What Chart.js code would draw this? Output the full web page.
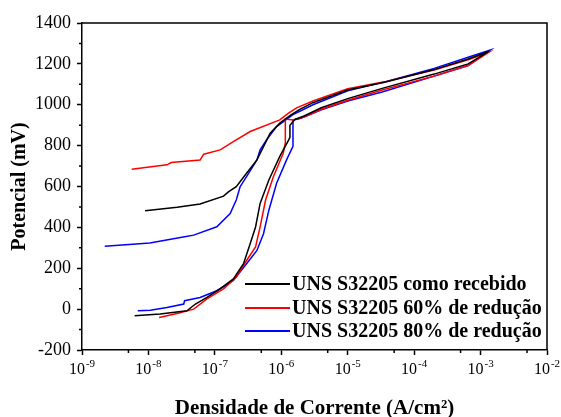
<!DOCTYPE html>
<html>
<head>
<meta charset="utf-8">
<script src="https://cdn.jsdelivr.net/npm/chart.js@4.4.0/dist/chart.umd.min.js"></script>
<style>
  html, body { margin: 0; padding: 0; background: #fff; }
</style>
</head>
<body>
<canvas id="polCanv" width="561" height="417"></canvas>
<script>
// series labels
const labels = [
  "UNS S32205 como recebido",
  "UNS S32205 60% de redução",
  "UNS S32205 80% de redução",
];
const colors = ["#000000", "#ff0000", "#0000ff"];

// current density (A/cm2) and potential (mV): forward scan, then reverse scan
const blackCurrent = [6.2e-9, 1.5e-8, 3.8e-8, 5.1e-8, 7.6e-8, 1.2e-7, 1.9e-7, 2.7e-7, 3.4e-7, 4.1e-7, 4.8e-7, 6.5e-7, 9.5e-7, 1.3e-6, 1.35e-6, 1.35e-6,
  1.6e-6, 2.2e-6, 4e-6, 1e-5, 3.3e-5, 2e-4, 6.5e-4, 1.35e-3,
  6.5e-4, 2e-4, 3.6e-5, 1e-5, 3e-6, 1.9e-6, 1.4e-6, 9.5e-7, 6.8e-7, 5.4e-7, 4.3e-7, 3.0e-7, 2.1e-7, 1.6e-7, 1.35e-7, 6e-8, 2.7e-8, 8.9e-9];
const blackPotential = [-33, -24, -8, 25, 57, 99, 148, 222, 320, 402, 517, 632, 747, 829, 840, 900,
  928, 945, 985, 1030, 1080, 1150, 1200, 1262,
  1224, 1172, 1110, 1072, 1010, 977, 950, 910, 861, 795, 730, 665, 599, 574, 553, 514, 498, 481];

const redCurrent = [1.45e-8, 2.7e-8, 4.8e-8, 7.6e-8, 1.35e-7, 2.1e-7, 3.0e-7, 4.1e-7, 4.8e-7, 5.8e-7, 7.6e-7, 1.07e-6, 1.15e-6, 1.15e-6,
  1.5e-6, 2.2e-6, 4e-6, 1e-5, 3.3e-5, 2e-4, 6.5e-4, 1.3e-3,
  6.5e-4, 2e-4, 3.6e-5, 1e-5, 3e-6, 1.7e-6, 1.3e-6, 9.5e-7, 3.4e-7, 1.9e-7, 1.2e-7, 6.8e-8, 6e-8, 2.2e-8, 1.9e-8, 5.6e-9];
const redPotential = [-41, -21, 0, 50, 99, 156, 238, 304, 402, 534, 648, 763, 813, 930,
  925, 940, 978, 1022, 1072, 1140, 1192, 1255,
  1220, 1170, 1112, 1078, 1018, 985, 960, 926, 869, 820, 779, 758, 730, 717, 706, 684];

const blueCurrent = [6.9e-9, 1.07e-8, 1.9e-8, 3.4e-8, 3.5e-8, 6e-8, 1.07e-7, 1.9e-7, 3.0e-7, 4.3e-7, 5.4e-7, 6.5e-7, 8.5e-7, 1.2e-6, 1.5e-6, 1.5e-6,
  1.8e-6, 2.2e-6, 4e-6, 1e-5, 3.3e-5, 2e-4, 6.5e-4, 1.4e-3,
  6.5e-4, 2e-4, 3.6e-5, 1e-5, 3e-6, 1.9e-6, 1.5e-6, 8.5e-7, 6e-7, 4.8e-7, 4.3e-7, 3.0e-7, 2.4e-7, 2.1e-7, 1.7e-7, 1.07e-7, 4.8e-8, 3.5e-8, 1.05e-8, 2.2e-9];
const bluePotential = [-8, -5, 8, 25, 41, 57, 90, 140, 222, 287, 369, 484, 616, 730, 796, 925,
  930, 940, 975, 1018, 1062, 1140, 1192, 1268,
  1232, 1178, 1112, 1068, 1000, 968, 952, 893, 828, 779, 730, 648, 599, 534, 468, 403, 362, 354, 324, 308];

// tick labels
const xTickExps = [-9, -8, -7, -6, -5, -4, -3, -2];
const yTicks = [-200, 0, 200, 400, 600, 800, 1000, 1200, 1400];

const serif = "'Liberation Serif', 'Times New Roman', serif";

function toPoints(xs, ys) {
  return xs.map((x, i) => ({ x: x, y: ys[i] }));
}

const series = [
  toPoints(blackCurrent, blackPotential),
  toPoints(redCurrent, redPotential),
  toPoints(blueCurrent, bluePotential),
];

let data = {
  datasets: series.map((pts, i) => ({
    label: labels[i],
    data: pts,
    showLine: true,
    borderColor: colors[i],
    backgroundColor: colors[i],
    borderWidth: 1.5,
    pointRadius: 0,
    tension: 0,
  })),
};

// frame, minor ticks, superscript x labels and legend
const extras = {
  id: "extras",
  afterDraw(chart) {
    const ctx = chart.ctx;
    const a = chart.chartArea;
    const xs = chart.scales.x;
    const ys = chart.scales.y;
    ctx.save();
    ctx.strokeStyle = "#000";
    ctx.lineWidth = 1.5;
    ctx.beginPath();
    ctx.moveTo(a.left, a.top);
    ctx.lineTo(a.right, a.top);
    ctx.lineTo(a.right, a.bottom);
    ctx.stroke();

    ctx.beginPath();
    for (let i = 0; i < yTicks.length - 1; i++) {
      const py = ys.getPixelForValue(yTicks[i] + 100);
      ctx.moveTo(a.left, py);
      ctx.lineTo(a.left - 3, py);
    }
    for (let i = 0; i < xTickExps.length - 1; i++) {
      const px = xs.getPixelForValue(5 * Math.pow(10, xTickExps[i]));
      ctx.moveTo(px, a.bottom);
      ctx.lineTo(px, a.bottom + 3);
    }
    ctx.stroke();

    ctx.fillStyle = "#000";
    ctx.textBaseline = "alphabetic";
    ctx.textAlign = "left";
    xTickExps.forEach((e) => {
      const px = xs.getPixelForValue(Math.pow(10, e));
      ctx.font = "16px " + serif;
      const w1 = ctx.measureText("10").width;
      ctx.font = "11px " + serif;
      const exp = "-" + Math.abs(e);
      const w2 = ctx.measureText(exp).width;
      const x0 = px - (w1 + w2 + 1) / 2;
      ctx.font = "16px " + serif;
      ctx.fillText("10", x0, a.bottom + 24);
      ctx.font = "11px " + serif;
      ctx.fillText(exp, x0 + w1 + 1, a.bottom + 17);
    });

    ctx.font = "bold 20px " + serif;
    ctx.textBaseline = "middle";
    const rows = [284, 308, 331];
    labels.forEach((lab, i) => {
      ctx.strokeStyle = colors[i];
      ctx.lineWidth = 2;
      ctx.beginPath();
      ctx.moveTo(245, rows[i]);
      ctx.lineTo(290, rows[i]);
      ctx.stroke();
      ctx.fillText(lab, 292, rows[i] + 1);
    });
    ctx.restore();
  },
};

let options = {
  responsive: false,
  animation: false,
  devicePixelRatio: 1,
  layout: { padding: { top: 23, right: 14, left: 0, bottom: 0 } },
  scales: {
    x: {
      type: "logarithmic",
      position: "bottom",
      min: 1e-9,
      max: 1e-2,
      afterBuildTicks: (s) => {
        s.ticks = xTickExps.map((e) => ({ value: Math.pow(10, e) }));
      },
      afterFit: (s) => { s.height = 67; },
      grid: { drawOnChartArea: false, tickLength: 5, tickColor: "#000", tickWidth: 1.5 },
      border: { color: "#000", width: 1.5 },
      ticks: { display: false },
      title: {
        display: true,
        text: "Densidade de Corrente (A/cm²)",
        color: "#000",
        font: { family: serif, size: 21, weight: "bold", lineHeight: 0.8 },
        padding: { top: 0, bottom: 0 },
      },
    },
    y: {
      min: -200,
      max: 1400,
      afterBuildTicks: (s) => {
        s.ticks = yTicks.map((v) => ({ value: v }));
      },
      afterFit: (s) => { s.width = 82; },
      grid: { drawOnChartArea: false, tickLength: 5, tickColor: "#000", tickWidth: 1.5 },
      border: { color: "#000", width: 1.5 },
      ticks: {
        color: "#000",
        padding: 6,
        font: { family: serif, size: 18 },
        callback: (v) => String(v),
      },
      title: {
        display: true,
        text: "Potencial (mV)",
        color: "#000",
        font: { family: serif, size: 20, weight: "bold", lineHeight: 1.2 },
        padding: { top: 8, bottom: 0 },
      },
    },
  },
  plugins: {
    legend: { display: false },
    tooltip: { enabled: false },
  },
};

const ctx = document.getElementById("polCanv").getContext("2d");
const myChart = new Chart(ctx, {
  type: "scatter",
  data: data,
  options: options,
  plugins: [extras],
});
</script>
</body>
</html>
